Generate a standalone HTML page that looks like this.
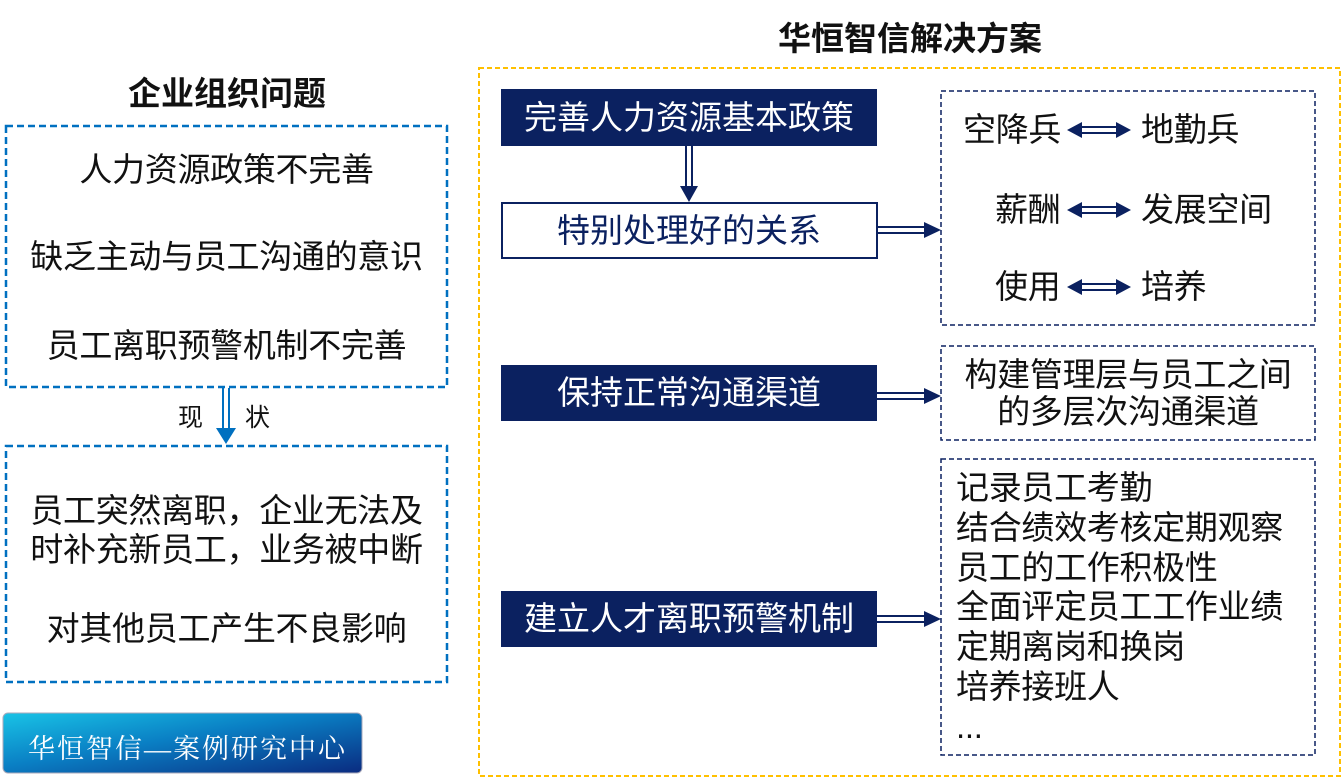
<!DOCTYPE html>
<html><head><meta charset="utf-8"><style>
body{margin:0;width:1342px;height:778px;background:#fff;position:relative;overflow:hidden;font-family:"Liberation Sans","Noto Sans CJK SC",sans-serif;color:#111}
.a{position:absolute;white-space:nowrap}
.c{text-align:center}
.t{font-size:33px;line-height:36px;letter-spacing:-0.3px}
.nav{position:absolute;background:#0b2160;color:#fff;font-size:33px;text-align:center}
</style></head><body>
<div class="a c" style="left:6px;width:442px;top:67px;font-size:33px;font-weight:bold">企业组织问题</div>
<div class="a c" style="left:700px;width:420px;top:12px;font-size:33px;font-weight:bold">华恒智信解决方案</div>

<svg class="a" style="left:0;top:0" width="1342" height="778">
<rect x="6" y="126" width="441" height="261" fill="none" stroke="#0070c0" stroke-width="2.5" stroke-dasharray="7,4"/>
<rect x="6" y="446" width="441" height="236" fill="none" stroke="#0070c0" stroke-width="2.5" stroke-dasharray="7,4"/>
<line x1="223" y1="388" x2="223" y2="430" stroke="#0070c0" stroke-width="2"/>
<line x1="229" y1="388" x2="229" y2="430" stroke="#0070c0" stroke-width="2"/>
<path d="M216,428L236,428L226,444z" fill="#0070c0"/>
<rect x="479" y="68" width="861" height="708" fill="none" stroke="#ffc000" stroke-width="2" stroke-dasharray="5,3"/>
<rect x="941" y="91" width="374" height="234" fill="none" stroke="#0b2160" stroke-width="1.5" stroke-dasharray="5,3"/>
<rect x="941" y="346" width="374" height="94" fill="none" stroke="#0b2160" stroke-width="1.5" stroke-dasharray="5,3"/>
<rect x="941" y="459" width="374" height="296" fill="none" stroke="#0b2160" stroke-width="1.5" stroke-dasharray="5,3"/>
<rect x="502" y="203" width="375" height="55" fill="#fff" stroke="#0b2160" stroke-width="2"/>
<line x1="686" y1="146" x2="686" y2="188" stroke="#0b2160" stroke-width="2"/>
<line x1="692" y1="146" x2="692" y2="188" stroke="#0b2160" stroke-width="2"/>
<path d="M680,186L698,186L689,202z" fill="#0b2160"/>
<g stroke="#0b2160" stroke-width="2">
<line x1="877" y1="227" x2="926" y2="227"/><line x1="877" y1="233" x2="926" y2="233"/>
<line x1="877" y1="393" x2="926" y2="393"/><line x1="877" y1="399" x2="926" y2="399"/>
<line x1="877" y1="616" x2="926" y2="616"/><line x1="877" y1="622" x2="926" y2="622"/>
</g>
<g fill="#0b2160">
<path d="M924,222L941,230L924,238z"/>
<path d="M924,388L941,396L924,404z"/>
<path d="M924,611L941,619L924,627z"/>
</g>
<g stroke="#0b2160" stroke-width="2">
<line x1="1080" y1="127" x2="1118" y2="127"/><line x1="1080" y1="133" x2="1118" y2="133"/>
<line x1="1080" y1="207" x2="1118" y2="207"/><line x1="1080" y1="213" x2="1118" y2="213"/>
<line x1="1080" y1="284" x2="1118" y2="284"/><line x1="1080" y1="290" x2="1118" y2="290"/>
</g>
<g fill="#0b2160">
<path d="M1067,130L1082,122L1082,138z"/><path d="M1131,130L1116,122L1116,138z"/>
<path d="M1067,210L1082,202L1082,218z"/><path d="M1131,210L1116,202L1116,218z"/>
<path d="M1067,287L1082,279L1082,295z"/><path d="M1131,287L1116,279L1116,295z"/>
</g>
<defs><linearGradient id="lg" x1="0" y1="0" x2="1" y2="1"><stop offset="0" stop-color="#19c3e6"/><stop offset="0.45" stop-color="#0a7fc4"/><stop offset="1" stop-color="#0a2b80"/></linearGradient></defs>
<rect x="3" y="713" width="359" height="60" rx="5" fill="url(#lg)" stroke="#aab" stroke-width="1"/>
</svg>

<div class="a c t" style="left:6px;width:441px;top:152px">人力资源政策不完善</div>
<div class="a c t" style="left:6px;width:441px;top:239px">缺乏主动与员工沟通的意识</div>
<div class="a c t" style="left:6px;width:441px;top:328px">员工离职预警机制不完善</div>
<div class="a" style="left:178px;top:398px;font-size:25px">现</div>
<div class="a" style="left:245px;top:398px;font-size:25px">状</div>
<div class="a c t" style="left:6px;width:441px;top:491px;line-height:39px">员工突然离职，企业无法及<br>时补充新员工，业务被中断</div>
<div class="a c t" style="left:6px;width:441px;top:611px">对其他员工产生不良影响</div>
<div class="a" style="left:28px;top:727px;font-size:27px;color:#fff;font-family:'Liberation Serif','Noto Serif CJK SC',serif;letter-spacing:2px">华恒智信—案例研究中心</div>

<div class="nav" style="left:501px;top:89px;width:376px;height:57px;line-height:57px">完善人力资源基本政策</div>
<div class="a c" style="left:501px;top:203px;width:376px;line-height:55px;font-size:33px;color:#0b2160">特别处理好的关系</div>
<div class="nav" style="left:501px;top:365px;width:376px;height:56px;line-height:56px">保持正常沟通渠道</div>
<div class="nav" style="left:501px;top:591px;width:376px;height:56px;line-height:56px">建立人才离职预警机制</div>

<div class="a t" style="left:963px;top:112px">空降兵</div>
<div class="a t" style="left:1141px;top:112px">地勤兵</div>
<div class="a t" style="left:995px;top:192px">薪酬</div>
<div class="a t" style="left:1141px;top:192px">发展空间</div>
<div class="a t" style="left:995px;top:269px">使用</div>
<div class="a t" style="left:1141px;top:269px">培养</div>
<div class="a c t" style="left:941px;width:374px;top:356px;line-height:37px">构建管理层与员工之间<br>的多层次沟通渠道</div>
<div class="a t" style="left:956px;top:468px;line-height:39.8px">记录员工考勤<br>结合绩效考核定期观察<br>员工的工作积极性<br>全面评定员工工作业绩<br>定期离岗和换岗<br>培养接班人<br>...</div>
</body></html>
